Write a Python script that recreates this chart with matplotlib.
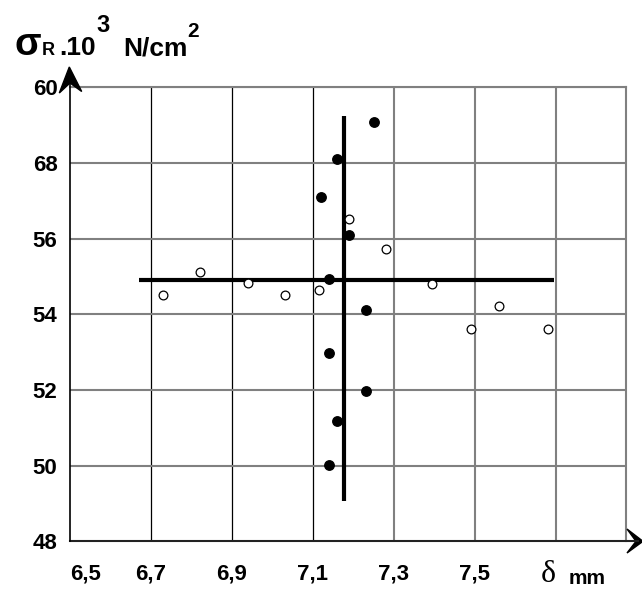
import matplotlib
matplotlib.use('Agg')
import matplotlib.pyplot as plt
from matplotlib.patches import Polygon
from matplotlib.lines import Line2D

W, H = 642, 589

# measured values (delta in mm, sigma_R in 10^3 N/cm2)
filled_x = [7.25, 7.16, 7.12, 7.19, 7.14, 7.23, 7.14, 7.23, 7.16, 7.14]
filled_y = [59.07, 58.1, 57.1, 56.1, 54.93, 54.12, 52.97, 51.96, 51.17, 50.02]
open_x = [6.73, 6.82, 6.94, 7.03, 7.115, 7.19, 7.28, 7.395, 7.49, 7.56, 7.68]
open_y = [54.51, 55.12, 54.82, 54.51, 54.63, 56.51, 55.72, 54.81, 53.62, 54.22, 53.61]

# mean cross
mean_x = 7.177
mean_y = 54.90
hline_x = [6.67, 7.695]
vline_y = [49.07, 59.24]

x_ticks = [6.5, 6.7, 6.9, 7.1, 7.3, 7.5, 7.7]
x_labels = ['6,5', '6,7', '6,9', '7,1', '7,3', '7,5', '']
y_ticks = [48, 50, 52, 54, 56, 58, 60]
y_labels = ['48', '50', '52', '54', '56', '68', '60']

plt.rcParams['font.family'] = ['Liberation Sans', 'DejaVu Sans']

fig = plt.figure(figsize=(W / 100, H / 100), dpi=100)
ax = fig.add_axes([70 / W, (H - 541.3) / H, (626 - 70) / W, (541.3 - 87.3) / H])
ax.set_xlim(6.5, 7.873)
ax.set_ylim(48, 60)

ax.set_xticks(x_ticks)
ax.set_xticklabels(x_labels, fontsize=16, fontweight='bold')
ax.set_yticks(y_ticks)
ax.set_yticklabels(y_labels, fontsize=16, fontweight='bold')
ax.tick_params(axis='x', length=0, pad=16)
ax.tick_params(axis='y', length=0, pad=9)
ax.get_xticklabels()[0].set_ha('left')

# grid
for xv in x_ticks[1:]:
    if xv < 7.2:
        ax.axvline(xv, color='black', lw=0.9, zorder=1)
    else:
        ax.axvline(xv, color='#808080', lw=1.5, zorder=1)
for yv in y_ticks[1:]:
    ax.axhline(yv, color='#808080', lw=1.5, zorder=1)

for s in ['left', 'bottom']:
    ax.spines[s].set_visible(False)
for s in ['top', 'right']:
    ax.spines[s].set_color('#808080')
    ax.spines[s].set_linewidth(1.5)

# points
ax.plot(open_x, open_y, 'o', mfc='white', mec='black', mew=0.9, ms=6.3, zorder=4, clip_on=False)
ax.plot(filled_x, filled_y, 'o', color='black', ms=6.8, zorder=4, clip_on=False)

# mean cross
ax.plot(hline_x, [mean_y, mean_y], color='black', lw=3, solid_capstyle='butt', zorder=3)
ax.plot([mean_x, mean_x], vline_y, color='black', lw=3, solid_capstyle='butt', zorder=3)


def fx(px):
    return px / W


def fy(py):
    return 1 - py / H


# axes with arrows
fig.add_artist(Line2D([fx(70), fx(638)], [fy(541.3), fy(541.3)], color='#222222', lw=1.5))
fig.add_artist(Line2D([fx(69.5), fx(69.5)], [fy(541.3), fy(72)], color='black', lw=1.2))
fig.add_artist(Polygon([(fx(69.3), fy(67)), (fx(59.3), fy(93)), (fx(70), fy(83)), (fx(81.7), fy(91.5))],
                       closed=True, color='black', transform=fig.transFigure))
fig.add_artist(Polygon([(fx(643), fy(541.3)), (fx(627), fy(529)), (fx(636), fy(541.3)), (fx(627), fy(553))],
                       closed=True, color='black', transform=fig.transFigure))

# axis titles
fig.text(fx(14), fy(55), 'σ', fontsize=28, fontweight='bold', va='baseline', ha='left')
fig.text(fx(42), fy(55), 'R', fontsize=13, fontweight='bold', va='baseline', ha='left')
fig.text(fx(59), fy(55), '.10', fontsize=19, fontweight='bold', va='baseline', ha='left')
fig.text(fx(96), fy(32), '3', fontsize=17, fontweight='bold', va='baseline', ha='left')
fig.text(fx(123), fy(55), 'N/cm', fontsize=19, fontweight='bold', va='baseline', ha='left')
fig.text(fx(187), fy(37), '2', fontsize=15, fontweight='bold', va='baseline', ha='left')

fig.text(fx(541), fy(582), 'δ', fontsize=23, family='Liberation Serif', va='baseline', ha='left')
fig.text(fx(569), fy(584), 'mm', fontsize=15, fontweight='bold', va='baseline', ha='left')

fig.savefig('out.png', dpi=100)
